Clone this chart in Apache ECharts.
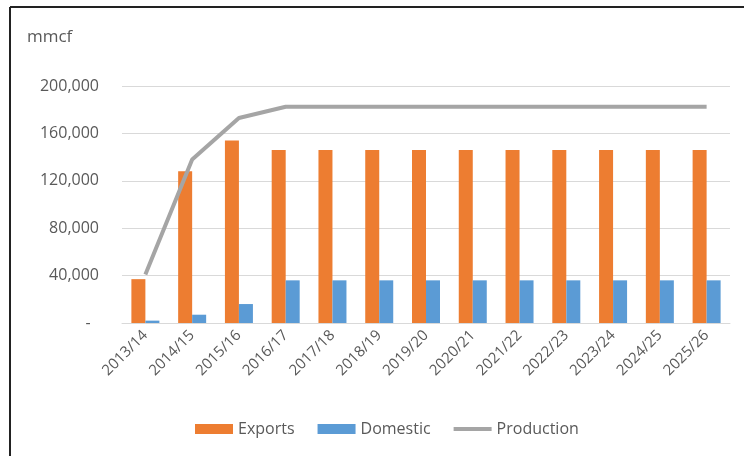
<!DOCTYPE html>
<html>
<head>
<meta charset="utf-8">
<script src="https://cdn.jsdelivr.net/npm/echarts@6/dist/echarts.min.js"></script>
<style>html,body{margin:0;padding:0;background:#fff}#c{width:744px;height:456px}</style>
</head>
<body>
<div id="c"></div>
<script>
const categories = ['2013/14','2014/15','2015/16','2016/17','2017/18','2018/19','2019/20','2020/21','2021/22','2022/23','2023/24','2024/25','2025/26'];
const exportsData = [37000,128000,154000,146000,146000,146000,146000,146000,146000,146000,146000,146000,146000];
const domesticData = [2000,7000,16000,36000,36000,36000,36000,36000,36000,36000,36000,36000,36000];
const productionData = [41000,138000,173000,182500,182500,182500,182500,182500,182500,182500,182500,182500,182500];
const yTicks = [0,40000,80000,120000,160000,200000];

const FONT = 'Open Sans';
const TXT = '#595959';
const chart = echarts.init(document.getElementById('c'), null, {renderer:'canvas'});
chart.setOption({
  animation:false,
  backgroundColor:'#fff',
  textStyle:{fontFamily:FONT},
  graphic:[
    {type:'line',shape:{x1:10,y1:7,x2:744,y2:7},style:{stroke:'#222',lineWidth:2}},
    {type:'line',shape:{x1:10,y1:7,x2:10,y2:456},style:{stroke:'#222',lineWidth:2}},
    {type:'text',left:27,top:29,style:{text:'mmcf',fontFamily:FONT,fontSize:17,fill:TXT}}
  ],
  grid:{left:122,right:14,top:86,bottom:133},
  legend:{
    left:190,top:416,itemWidth:38,itemHeight:10,itemGap:23,
    textStyle:{fontFamily:FONT,fontSize:16,color:TXT},
    data:[{name:'Exports',icon:'rect'},{name:'Domestic',icon:'rect'},
          {name:'Production',icon:'path://M0,0H40V4H0Z',itemStyle:{color:'#A5A5A5'}}]
  },
  xAxis:{
    type:'category',data:categories,
    axisLine:{show:true,lineStyle:{color:'#d9d9d9'}},
    axisTick:{show:false},
    axisLabel:{rotate:45,fontFamily:FONT,fontSize:15,color:TXT,margin:10,interval:0}
  },
  yAxis:{
    type:'value',min:yTicks[0],max:yTicks[yTicks.length-1],interval:40000,
    axisLine:{show:false},axisTick:{show:false},
    splitLine:{lineStyle:{color:'#d9d9d9'}},
    axisLabel:{fontFamily:FONT,fontSize:16,color:TXT,margin:23,
      formatter:v=> v===0 ? '-  ' : v.toLocaleString('en-US')}
  },
  series:[
    {name:'Exports',type:'bar',data:exportsData,barWidth:14,barGap:'0%',itemStyle:{color:'#ED7D31'}},
    {name:'Domestic',type:'bar',data:domesticData,barWidth:14,barGap:'0%',itemStyle:{color:'#5B9BD5'}},
    {name:'Production',type:'line',data:productionData,symbol:'none',showSymbol:false,
      lineStyle:{color:'#A5A5A5',width:4},itemStyle:{color:'#A5A5A5'}}
  ]
});
</script>
</body>
</html>
